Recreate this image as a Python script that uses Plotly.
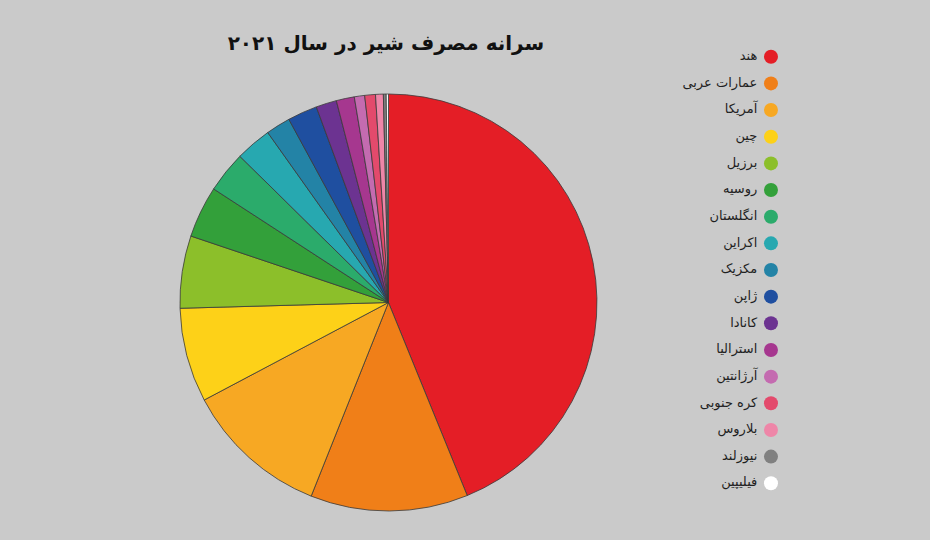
#!/usr/bin/env python3
"""سرانه مصرف شیر در سال ۲۰۲۱ — نمودار دایره‌ای با راهنمای راست‌چین."""

import plotly.graph_objects as go

TITLE = "سرانه مصرف شیر در سال ۲۰۲۱"

COUNTRIES = [
    "هند", "عمارات عربی", "آمریکا", "چین", "برزیل", "روسیه", "انگلستان",
    "اکراین", "مکزیک", "ژاپن", "کانادا", "استرالیا", "آرژانتین",
    "کره جنوبی", "بلاروس", "نیوزلند", "فیلیپین",
]
# سهم هر کشور (درصد، تخمینی از روی تصویر)
SHARES = [
    43.8, 12.2, 11.2, 7.3, 5.6, 4.0, 3.2,
    2.8, 1.9, 2.3, 1.6, 1.4, 0.8,
    0.83, 0.6, 0.22, 0.17,
]
COLORS = [
    "#e41e26", "#f07f18", "#f7a823", "#fdd118", "#8cbf2a", "#33a03a", "#2bab6b",
    "#27a8b0", "#2383a6", "#1f4fa0", "#6c3391", "#a6378f", "#c46bb0",
    "#e34a6c", "#ee86a8", "#808080", "#ffffff",
]

BG = "#cacaca"
FONT = "DejaVu Sans"

fig = go.Figure()

fig.add_trace(
    go.Pie(
        labels=COUNTRIES,
        values=SHARES,
        sort=False,
        direction="clockwise",
        rotation=0,
        textinfo="none",
        showlegend=False,
        marker=dict(colors=COLORS, line=dict(color="#3a3a3a", width=0.8)),
        domain=dict(x=[0.1935, 0.6419], y=[0.0537, 0.8259]),
    )
)

# راهنما: دایره در سمت راست، متن در سمت چپ (راست‌چین)
fig.add_trace(
    go.Scatter(
        x=[0] * len(COUNTRIES),
        y=COUNTRIES,
        mode="markers",
        marker=dict(color=COLORS, size=14, line=dict(width=0)),
        cliponaxis=False,
        showlegend=False,
        hoverinfo="skip",
    )
)
fig.add_trace(
    go.Scatter(
        x=[-0.5] * len(COUNTRIES),
        y=COUNTRIES,
        mode="text",
        text=COUNTRIES,
        textposition="middle left",
        textfont=dict(family=FONT, size=13, color="#1f1f1f"),
        cliponaxis=False,
        showlegend=False,
        hoverinfo="skip",
    )
)

fig.update_layout(
    width=930,
    height=540,
    margin=dict(l=0, r=0, t=0, b=0),
    paper_bgcolor=BG,
    plot_bgcolor=BG,
    title=dict(
        text=f"<b>{TITLE}</b>",
        x=0.415,
        xanchor="center",
        y=0.92,
        yanchor="middle",
        font=dict(family=FONT, size=20, color="#111111"),
    ),
    xaxis=dict(domain=[0.7995, 0.8585], range=[-1, 1], visible=False, fixedrange=True),
    yaxis=dict(
        domain=[0.0804, 0.9196],
        type="category",
        range=[len(COUNTRIES) - 0.5, -0.5],
        visible=False,
        fixedrange=True,
    ),
)

# حذف حاشیهٔ پیش‌فرض body تا نمودار دقیقاً پنجره را پر کند
fig.write_html(
    "out.html",
    config={"displayModeBar": False},
    post_script="document.body.style.margin = '0';",
)
